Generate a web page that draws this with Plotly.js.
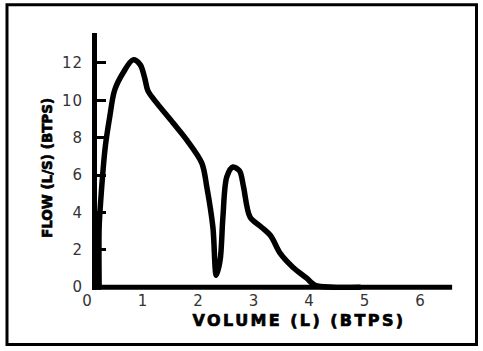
<!DOCTYPE html>
<html>
<head>
<meta charset="utf-8">
<script src="https://cdn.plot.ly/plotly-3.0.1.min.js"></script>
<style>
  html, body { margin: 0; padding: 0; background: #fff; }
  #chart { width: 483px; height: 351px; }
  .xtick text, .ytick text { letter-spacing: 1px; }
  .annotation-text { paint-order: stroke; stroke: #000; stroke-width: 0.7px; }
  .js-line { stroke-linejoin: round; stroke-linecap: round; }
</style>
</head>
<body>
<div id="chart"></div>
<script>
// Flow-volume curve
const volume = [0.21, 0.21, 0.24, 0.32, 0.40, 0.49, 0.64, 0.82, 0.95, 1.03, 1.09, 1.25, 1.54, 1.79, 2.06, 2.15, 2.26, 2.32, 2.39, 2.44, 2.51, 2.62, 2.74, 2.81, 2.93, 3.12, 3.30, 3.47, 3.70, 3.95, 4.10, 4.42, 4.90];
const flow   = [0.00, 3.20, 4.70, 7.50, 9.10, 10.55, 11.46, 12.16, 11.90, 11.20, 10.50, 9.85, 8.80, 7.87, 6.64, 5.36, 3.20, 0.64, 1.45, 3.75, 5.90, 6.43, 6.22, 5.40, 3.75, 3.25, 2.75, 1.82, 1.07, 0.48, 0.10, 0.00, 0.00];

const xTicks = [0, 1, 2, 3, 4, 5, 6];
const yTicks = [0, 2, 4, 6, 8, 10, 12];
const xTitle = 'VOLUME (L) (BTPS)';
const yTitle = 'FLOW (L/S) (BTPS)';

const tickFont = { family: 'DejaVu Sans', size: 15, color: '#333' };

const trace = {
  x: volume, y: flow, type: 'scatter', mode: 'lines',
  line: { color: '#000', width: 5.5, shape: 'spline', smoothing: 0.9 },
  hoverinfo: 'skip'
};

const layout = {
  width: 483, height: 351,
  margin: { l: 80, r: 23, t: 33, b: 61 },
  paper_bgcolor: '#fff', plot_bgcolor: '#fff',
  showlegend: false,
  xaxis: {
    range: [-0.135, 6.712], tickvals: xTicks, ticktext: xTicks.map(String),
    showline: false, showgrid: false, zeroline: false, ticks: '',
    tickfont: tickFont
  },
  yaxis: {
    range: [-0.15, 13.6], tickvals: yTicks, ticktext: yTicks.map(String),
    anchor: 'free', position: (94 - 80) / 380, side: 'left',
    showline: true, linecolor: '#000', linewidth: 5,
    showgrid: false, zeroline: false,
    ticks: 'inside', ticklen: 9, tickwidth: 3, tickcolor: '#000',
    ticklabelstandoff: 6,
    tickfont: tickFont
  },
  shapes: [
    { type: 'line', xref: 'x', yref: 'y', x0: 0.1, x1: 6.57, y0: 0, y1: 0,
      line: { color: '#000', width: 5 } },
    { type: 'rect', xref: 'paper', yref: 'paper',
      x0: (7 - 80) / 380, x1: (476.5 - 80) / 380,
      y0: (290 - 344.5) / 257, y1: (290 - 4.7) / 257,
      line: { color: '#000', width: 3 }, fillcolor: 'rgba(0,0,0,0)' }
  ],
  annotations: [
    { text: xTitle, xref: 'paper', yref: 'paper',
      x: (299 - 80) / 380, y: (290 - 320) / 257, xanchor: 'center', yanchor: 'middle',
      showarrow: false, font: { family: 'DejaVu Sans', size: 16, color: '#000', weight: 'bold' } },
    { text: yTitle, xref: 'paper', yref: 'paper', textangle: -90,
      x: (47 - 80) / 380, y: (290 - 168) / 257, xanchor: 'center', yanchor: 'middle',
      showarrow: false, font: { family: 'DejaVu Sans', size: 13.5, color: '#000', weight: 'bold' } }
  ]
};

Plotly.newPlot('chart', [trace], layout, { staticPlot: true, displayModeBar: false }).then(function () {
  const ann = document.querySelectorAll('.annotation-text');
  if (ann.length) { ann[0].style.letterSpacing = '2.4px'; }
});
</script>
</body>
</html>
